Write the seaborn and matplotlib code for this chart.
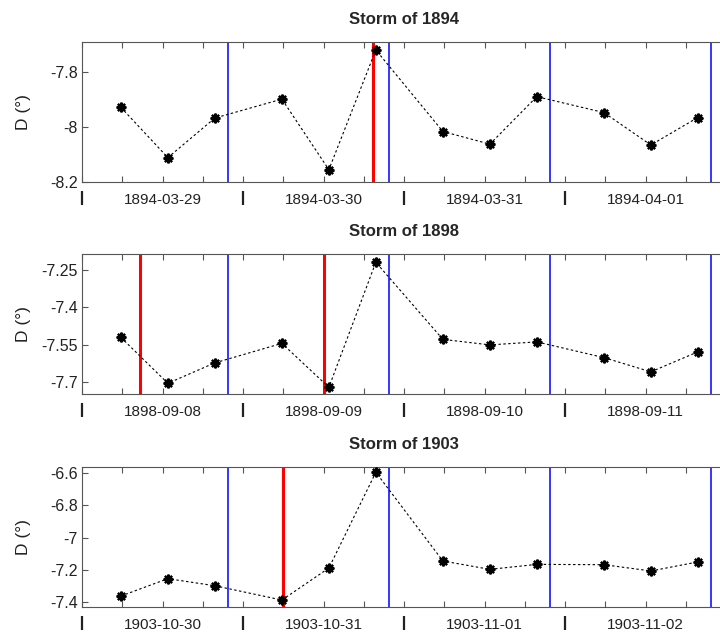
import matplotlib
matplotlib.use("Agg")
import matplotlib.pyplot as plt
import seaborn as sns
import pandas as pd
from matplotlib.ticker import FixedLocator, NullFormatter, FixedFormatter

sns.set_theme(style="white")
plt.rcParams['font.family'] = ['Liberation Sans', 'DejaVu Sans']

# Hours since the first day's midnight for each reading
hours = [5.8, 12.8, 19.8, 29.8, 36.8, 43.8, 53.8, 60.8, 67.8, 77.8, 84.8, 91.8]

titles = ["Storm of 1894", "Storm of 1898", "Storm of 1903"]

d_1894 = [-7.93, -8.113, -7.969, -7.900, -8.157, -7.721,
          -8.018, -8.064, -7.891, -7.949, -8.067, -7.967]
d_1898 = [-7.520, -7.704, -7.622, -7.544, -7.720, -7.219,
          -7.528, -7.550, -7.538, -7.601, -7.658, -7.578]
d_1903 = [-7.364, -7.256, -7.300, -7.389, -7.190, -6.594,
          -7.146, -7.198, -7.167, -7.169, -7.208, -7.152]
series = [d_1894, d_1898, d_1903]

days_1894 = ["1894-03-29", "1894-03-30", "1894-03-31", "1894-04-01"]
days_1898 = ["1898-09-08", "1898-09-09", "1898-09-10", "1898-09-11"]
days_1903 = ["1903-10-30", "1903-10-31", "1903-11-01", "1903-11-02"]
day_labels = [days_1894, days_1898, days_1903]

# Storm onsets (red) and day markers (blue), hours from first midnight
red_1894 = [43.4]
red_1898 = [8.7, 36.1]
red_1903 = [30.0]
reds = [red_1894, red_1898, red_1903]
blue_lines = [21.8, 45.8, 69.8, 93.8]

yticks_1894 = [-8.2, -8.0, -7.8]
yticks_1898 = [-7.7, -7.55, -7.4, -7.25]
yticks_1903 = [-7.4, -7.2, -7.0, -6.8, -6.6]
ytick_labels = [["-8.2", "-8", "-7.8"],
                ["-7.7", "-7.55", "-7.4", "-7.25"],
                ["-7.4", "-7.2", "-7", "-6.8", "-6.6"]]
yticks = [yticks_1894, yticks_1898, yticks_1903]
ylims = [(-8.2, -7.692), (-7.746, -7.187), (-7.431, -6.563)]

fig = plt.figure(figsize=(7.2, 6.32), dpi=100)
W, H = 720.0, 632.0
left, right = 82.0, 726.0
tops = [42.0, 254.3, 467.3]
ax_h = 139.5

spine_col = "#555555"
for i in range(3):
    top = tops[i]
    ax = fig.add_axes([left / W, 1 - (top + ax_h) / H, (right - left) / W, ax_h / H])
    for x in blue_lines:
        ax.axvline(x, color="#0000ff", lw=1.1, zorder=1)
    for x in reds[i]:
        ax.axvline(x, color="#ff0000", lw=2.2, zorder=1)
    df = pd.DataFrame({"t": hours, "D": series[i]})
    sns.lineplot(data=df, x="t", y="D", ax=ax, color="black", lw=0.8,
                 linestyle=(0, (2.2, 2.2)), marker=(8, 2, 0), markersize=7,
                 markeredgewidth=1.6, markeredgecolor="black", zorder=3)
    ax.set_xlim(0, 96)
    ax.set_ylim(*ylims[i])
    ax.xaxis.set_major_locator(FixedLocator([12, 36, 60, 84]))
    ax.xaxis.set_major_formatter(FixedFormatter(day_labels[i]))
    ax.xaxis.set_minor_locator(FixedLocator([h for h in range(0, 97, 6)]))
    ax.xaxis.set_minor_formatter(NullFormatter())
    ax.tick_params(axis="x", which="both", direction="in", length=4, width=0.8,
                   top=True, bottom=True, color=spine_col)
    ax.tick_params(axis="x", which="major", pad=8, labelsize=11,
                   labelcolor="#222222")
    ax.set_yticks(yticks[i])
    ax.set_yticklabels(ytick_labels[i])
    ax.tick_params(axis="y", direction="in", length=4, width=0.8, left=True,
                   right=True, labelsize=11.5, color=spine_col, pad=3,
                   labelcolor="#222222")
    for s in ax.spines.values():
        s.set_color(spine_col)
        s.set_linewidth(0.8)
    ax.vlines([0, 24, 48, 72, 96], -0.067, -0.167, transform=ax.get_xaxis_transform(),
              colors="#222222", lw=1.6, clip_on=False)
    ax.set_xlabel("")
    ax.set_ylabel("D (°)", fontsize=12.5, color="#222222")
    ax.yaxis.set_label_coords(-(82 - 31) / 644.0, 0.5)
    ax.set_title(titles[i], fontsize=12, fontweight="bold", pad=13)
    ax.grid(False)

fig.savefig("out.png", dpi=100)
